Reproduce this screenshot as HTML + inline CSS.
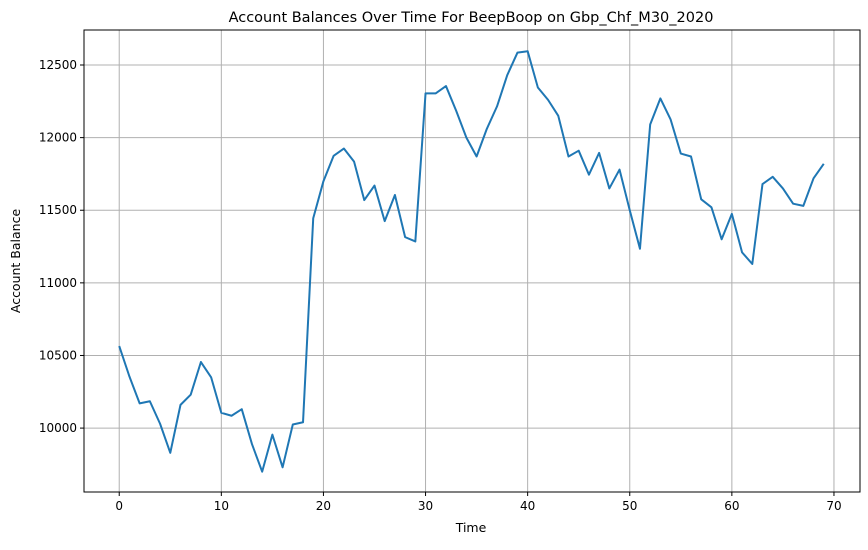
<!DOCTYPE html>
<html><head><meta charset="utf-8"><style>
body{margin:0;background:#fff;font-family:"Liberation Sans","DejaVu Sans",sans-serif;}
svg text{font-family:"DejaVu Sans","Liberation Sans",sans-serif;}
</style></head><body>
<svg id="chart" width="868" height="545" xmlns="http://www.w3.org/2000/svg">
<rect width="868" height="545" fill="#fff"/>
<g id="grid"></g>
<g id="ticks"></g>
<polyline id="line" fill="none" stroke="#1f77b4" stroke-width="2" stroke-linejoin="round"/>
<rect x="84" y="30" width="776" height="462" fill="none" stroke="#000" stroke-width="1"/>
<text x="471" y="22" text-anchor="middle" font-size="14.5">Account Balances Over Time For BeepBoop on Gbp_Chf_M30_2020</text>
<text x="471" y="532" text-anchor="middle" font-size="12.5">Time</text>
<text x="20" y="261" text-anchor="middle" font-size="12.5" transform="rotate(-90 20 261)">Account Balance</text>
</svg>
<script>
const balances=[10565,10355,10170,10185,10030,9830,10160,10230,10455,10350,10105,10085,10130,9890,9700,9955,9730,10025,10040,11445,11700,11875,11925,11835,11570,11670,11425,11605,11315,11285,12305,12305,12355,12185,12000,11870,12060,12215,12430,12585,12595,12345,12260,12150,11870,11910,11745,11895,11650,11780,11500,11235,12090,12270,12125,11890,11870,11575,11520,11300,11475,11210,11130,11680,11730,11650,11545,11530,11720,11820];
const xTicks=[0,10,20,30,40,50,60,70];
const yTicks=[10000,10500,11000,11500,12000,12500];
const L=84,R=860,T=30,B=492;
const xMin=-3.45,xMax=72.55,yMin=9560,yMax=12741;
const xs=v=>L+(v-xMin)/(xMax-xMin)*(R-L);
const ys=v=>B-(v-yMin)/(yMax-yMin)*(B-T);
const NS="http://www.w3.org/2000/svg";
const grid=document.getElementById('grid'),ticks=document.getElementById('ticks');
function mk(tag,attrs,parent){const e=document.createElementNS(NS,tag);for(const k in attrs)e.setAttribute(k,attrs[k]);parent.appendChild(e);return e;}
xTicks.forEach(t=>{const x=xs(t);
const g=mk('line',{x1:x,x2:x,y1:T,y2:B,stroke:'#b0b0b0','stroke-width':1},grid);


mk('line',{x1:x,x2:x,y1:B,y2:B+4,stroke:'#000'},ticks);
const tx=mk('text',{x:x,y:B+18,'text-anchor':'middle','font-size':'12'},ticks);tx.textContent=t;

});
yTicks.forEach(t=>{const y=ys(t);
const g=mk('line',{x1:L,x2:R,y1:y,y2:y,stroke:'#b0b0b0','stroke-width':1},grid);


mk('line',{x1:L-4,x2:L,y1:y,y2:y,stroke:'#000'},ticks);
const tx=mk('text',{x:L-7,y:y+4,'text-anchor':'end','font-size':'12'},ticks);tx.textContent=t;

});
document.getElementById('line').setAttribute('points',balances.map((v,i)=>xs(i)+','+ys(v)).join(' '));
</script>
</body></html>
